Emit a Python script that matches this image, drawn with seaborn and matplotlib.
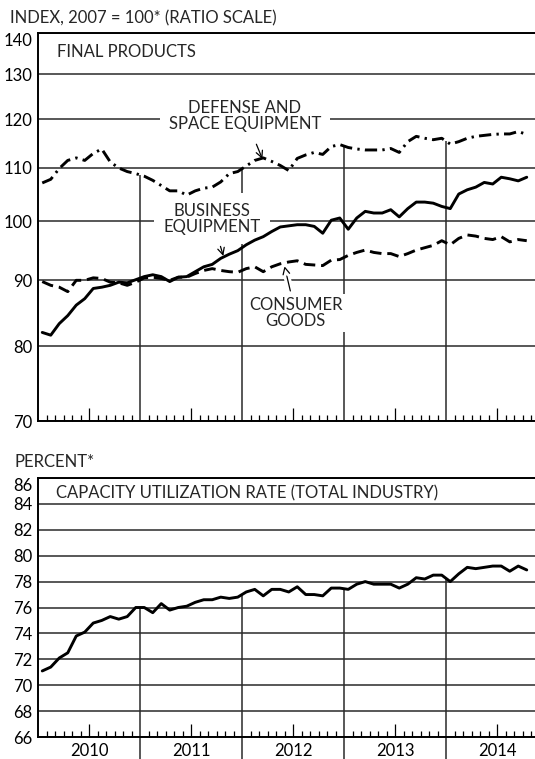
import numpy as np
import pandas as pd
import matplotlib.pyplot as plt
import matplotlib.patheffects as pe
from matplotlib.ticker import FixedLocator, NullLocator, FuncFormatter
import seaborn as sns

# ---------------------------------------------------
# DATA  (monthly, Jan 2010 - Oct 2014)
# ---------------------------------------------------

years = ["2010", "2011", "2012", "2013", "2014"]

defense = [107.1, 107.8, 109.9, 111.5, 112.0, 111.5, 112.9, 113.8, 111.2, 110.0,
           109.3, 108.9, 108.4, 107.6, 106.6, 105.6, 105.6, 104.8, 105.6, 106.1,
           106.3, 107.3, 108.9, 109.3, 110.4, 111.5, 112.0, 111.3, 110.5, 109.5,
           111.9, 112.6, 113.1, 112.7, 114.3, 114.7, 114.1, 113.8, 113.6, 113.6,
           113.6, 113.9, 113.1, 115.3, 116.4, 116.0, 115.7, 116.0, 114.8, 115.3,
           116.0, 116.4, 116.6, 116.8, 116.9, 116.9, 117.4, 116.8]

business = [82.0, 81.6, 83.3, 84.5, 86.1, 87.1, 88.7, 88.9, 89.2, 89.7,
            89.6, 90.1, 90.6, 90.9, 90.6, 89.8, 90.5, 90.6, 91.4, 92.2,
            92.6, 93.6, 94.3, 94.9, 95.9, 96.7, 97.3, 98.2, 99.0, 99.2,
            99.4, 99.4, 99.1, 97.9, 100.2, 100.6, 98.6, 100.6, 101.8, 101.5,
            101.5, 102.1, 100.8, 102.3, 103.5, 103.5, 103.3, 102.7, 102.3, 105.0,
            105.8, 106.3, 107.2, 106.9, 108.2, 107.9, 107.5, 108.2]

consumer = [89.8, 89.2, 88.9, 88.2, 90.0, 90.0, 90.4, 90.3, 89.7, 89.6,
            89.2, 89.7, 90.4, 90.5, 90.3, 90.0, 90.5, 90.5, 91.1, 91.6,
            91.9, 91.6, 91.4, 91.3, 91.9, 92.2, 91.4, 92.2, 92.7, 93.0,
            93.2, 92.6, 92.5, 92.4, 93.3, 93.4, 94.1, 94.6, 95.0, 94.6,
            94.4, 94.4, 93.9, 94.4, 95.0, 95.4, 95.8, 96.6, 95.9, 97.0,
            97.6, 97.4, 97.0, 96.8, 97.3, 96.4, 96.8, 96.6]

capacity = [71.1, 71.4, 72.1, 72.5, 73.8, 74.1, 74.8, 75.0, 75.3, 75.1,
            75.3, 76.0, 76.0, 75.6, 76.3, 75.8, 76.0, 76.1, 76.4, 76.6,
            76.6, 76.8, 76.7, 76.8, 77.2, 77.4, 76.9, 77.4, 77.4, 77.2,
            77.6, 77.0, 77.0, 76.9, 77.5, 77.5, 77.4, 77.8, 78.0, 77.8,
            77.8, 77.8, 77.5, 77.8, 78.3, 78.2, 78.5, 78.5, 78.0, 78.6,
            79.1, 79.0, 79.1, 79.2, 79.2, 78.8, 79.2, 78.9]

top_ticks = [70, 80, 90, 100, 110, 120, 130, 140]
bottom_ticks = [66, 68, 70, 72, 74, 76, 78, 80, 82, 84, 86]

# month position (middle of each month, 0 = start of 2010)
month = np.arange(len(capacity)) + 0.5
year_edges = [12, 24, 36, 48]
year_mids = [6, 18, 30, 42, 54]
month_ticks = [m for m in range(61) if m % 6 != 0]

df_top = pd.DataFrame({
    "month": np.concatenate([month, month, month]),
    "value": defense + business + consumer,
    "series": ["defense"] * len(month) + ["business"] * len(month) + ["consumer"] * len(month),
})
df_cap = pd.DataFrame({"month": month, "value": capacity})

# ---------------------------------------------------
# STYLE
# ---------------------------------------------------

sns.set_theme(style="white")
plt.rcParams["font.family"] = ["Lato", "DejaVu Sans"]
FS = 12
GRID = "#2a2a2a"

fig = plt.figure(figsize=(5.35, 7.59), dpi=100)
W, H = 535, 759
ax1 = fig.add_axes([38 / W, 1 - 421 / H, 510 / W, 388 / H])
ax2 = fig.add_axes([38 / W, 1 - 737 / H, 510 / W, 259 / H])


def style_axis(ax, ticks):
    ax.set_xlim(0, 60)
    ax.set_axisbelow(True)
    ax.grid(axis="y", color=GRID, lw=1.1)
    ax.grid(axis="x", visible=False)
    for side in ["left", "top", "bottom"]:
        ax.spines[side].set_visible(True)
        ax.spines[side].set_color("black")
        ax.spines[side].set_linewidth(1.4)
    ax.spines["right"].set_visible(False)
    ax.yaxis.set_major_locator(FixedLocator(ticks))
    ax.yaxis.set_minor_locator(NullLocator())
    ax.yaxis.set_major_formatter(FuncFormatter(lambda v, p: f"{v:g}"))
    ax.tick_params(axis="y", length=0, pad=4, labelsize=FS, labelcolor="black")
    ax.xaxis.set_major_locator(FixedLocator(year_mids))
    ax.xaxis.set_minor_locator(FixedLocator(month_ticks))
    ax.tick_params(axis="x", which="major", direction="in", length=9.5, width=0.9,
                   color="black", bottom=True, top=False)
    ax.tick_params(axis="x", which="minor", direction="in", length=4.5, width=0.9,
                   color="black", bottom=True, top=False)
    ax.set_xlabel("")
    ax.set_ylabel("")
    # the top label sits just under the frame line
    fig.canvas.draw()
    ax.get_yticklabels()[-1].set_verticalalignment("top")


# ---------------------------------------------------
# TOP PANEL: FINAL PRODUCTS
# ---------------------------------------------------

sns.lineplot(data=df_top, x="month", y="value", style="series",
             dashes={"defense": (4.2, 1.8, 0.8, 1.8), "business": "", "consumer": (4.0, 2.0)},
             color="black", linewidth=2.1, legend=False, ax=ax1, zorder=4)
ax1.set_yscale("log")
ax1.set_ylim(70, 140)
style_axis(ax1, top_ticks)
ax1.set_xticklabels([])

# year separators rise from the axis to the top series
ax1.vlines(year_edges, 70, np.interp(year_edges, month, defense), color=GRID, lw=1.1, zorder=1)

ax1.text(0.037, 0.951, "FINAL PRODUCTS", transform=ax1.transAxes, fontsize=FS, va="center")

label_box = dict(boxstyle="square,pad=0.55", fc="white", ec="none")
arrow = dict(arrowstyle="->", color="black", lw=0.9, shrinkA=2, shrinkB=0)
# the consumer arrow cuts a small gap into the 90 gridline
arrow_gap = dict(arrow, path_effects=[pe.withStroke(linewidth=5, foreground="white")])

ax1.annotate("DEFENSE AND\nSPACE EQUIPMENT", xy=(26.4, 111.8), xytext=(24.35, 120.6),
             ha="center", va="center", fontsize=FS, linespacing=1.0,
             bbox=label_box, arrowprops=arrow, zorder=3)
ax1.annotate("BUSINESS\nEQUIPMENT", xy=(21.8, 94.0), xytext=(20.5, 100.5),
             ha="center", va="center", fontsize=FS, linespacing=1.0,
             bbox=label_box, arrowprops=arrow, zorder=3)
ax1.annotate("CONSUMER\nGOODS", xy=(29.0, 92.3), xytext=(30.3, 84.9),
             ha="center", va="center", fontsize=FS, linespacing=1.0,
             bbox=dict(boxstyle="square,pad=0.2", fc="white", ec="none"),
             arrowprops=arrow_gap, zorder=3)

# ---------------------------------------------------
# BOTTOM PANEL: CAPACITY UTILIZATION
# ---------------------------------------------------

sns.lineplot(data=df_cap, x="month", y="value", color="black", linewidth=2.1,
             ax=ax2, zorder=4)
ax2.set_ylim(66, 86)
style_axis(ax2, bottom_ticks)
ax2.set_xticklabels(years)
ax2.tick_params(axis="x", which="major", labelsize=FS, pad=4, labelcolor="black")

ax2.vlines(year_edges, 64.0, np.interp(year_edges, month, capacity), color=GRID, lw=1.1,
           zorder=1, clip_on=False)

ax2.text(0.035, 0.942, "CAPACITY UTILIZATION RATE (TOTAL INDUSTRY)", transform=ax2.transAxes,
         fontsize=FS, va="center")

fig.text(10 / W, 1 - 18 / H, "INDEX, 2007 = 100* (RATIO SCALE)", fontsize=FS, va="center")
fig.text(15 / W, 1 - 462 / H, "PERCENT*", fontsize=FS, va="center")

fig.savefig("out.png", dpi=100)
